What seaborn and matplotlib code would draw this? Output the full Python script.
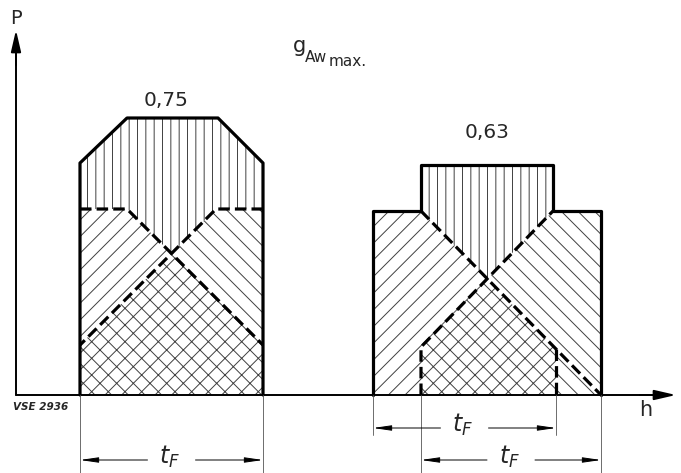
import matplotlib
matplotlib.use("Agg")
import matplotlib.pyplot as plt
import seaborn as sns

# --- values (h in drawing units, P above the h axis) ---
# left pair, g = 0,75
left_env_h = [80, 80, 127, 218, 263, 263]
left_env_p = [0, 232, 277, 277, 232, 0]
left_load1_h = [80, 127, 263]
left_load1_p = [186, 186, 50]
left_load2_h = [263, 216, 80]
left_load2_p = [186, 186, 50]
left_cross = (171.5, 141.5)

# right pair, g = 0,63
right_env_h = [373, 373, 421, 421, 553, 553, 601, 601]
right_env_p = [0, 184, 184, 230, 230, 184, 184, 0]
right_load1_h = [421, 556, 601]
right_load1_p = [184, 46, 0]
right_load2_h = [421, 421, 553]
right_load2_p = [0, 48, 184]
right_cross = (487, 116)

g_labels = ["0,75", "0,63"]
g_label_pos = [(166, 295), (487, 262)]

# dimension lines t_F: (start, end, level)
tf_dims = [(80, 263, -65), (373, 556, -33), (421, 601, -65)]
tf_ext = [(80, -78), (263, -78), (373, -40), (556, -40), (421, -78), (601, -78)]

sns.set_style("white")
plt.rcParams["hatch.linewidth"] = 0.7

fig = plt.figure(figsize=(6.81, 4.73), dpi=100)
ax = fig.add_axes([0, 0, 1, 1])
ax.set_xlim(0, 681)
ax.set_ylim(-78, 395)
ax.axis("off")

hc = "#404040"


def region(pts, hatch):
    xs = [p[0] for p in pts]
    ys = [p[1] for p in pts]
    ax.fill(xs, ys, facecolor="none", edgecolor=hc, lw=0, hatch=hatch)


# left shape regions
c = left_cross
region(list(zip(left_env_h[1:5], left_env_p[1:5]))
       + [(left_load2_h[0], left_load2_p[0]), (left_load2_h[1], left_load2_p[1]), c,
          (left_load1_h[1], left_load1_p[1]), (left_load1_h[0], left_load1_p[0])], "||")
region([(left_load1_h[0], left_load1_p[0]), (left_load1_h[1], left_load1_p[1]), c,
        (left_load2_h[2], left_load2_p[2])], "//")
region([(left_load2_h[0], left_load2_p[0]), (left_load2_h[1], left_load2_p[1]), c,
        (left_load1_h[2], left_load1_p[2])], "\\\\")
region([(left_env_h[0], 0), (left_load2_h[2], left_load2_p[2]), c,
        (left_load1_h[2], left_load1_p[2]), (left_env_h[-1], 0)], "xx")

# right shape regions
c = right_cross
region(list(zip(right_env_h[2:6], right_env_p[2:6])) + [c], "||")
region(list(zip(right_env_h[0:3], right_env_p[0:3])) + [c,
       (right_load2_h[1], right_load2_p[1]), (right_load2_h[0], 0)], "//")
region(list(zip(right_env_h[::-1][0:3], right_env_p[::-1][0:3])) + [c,
       (right_load1_h[1], right_load1_p[1]), (right_load1_h[1], 0)], "\\\\")
region([(right_load2_h[0], 0), (right_load2_h[1], right_load2_p[1]), c,
        (right_load1_h[1], right_load1_p[1]), (right_load1_h[1], 0)], "xx")

# outlines
solid = dict(color="k", lw=2.3, sort=False, estimator=None, ax=ax)
sns.lineplot(x=left_env_h, y=left_env_p, **solid)
sns.lineplot(x=right_env_h, y=right_env_p, **solid)

dash = dict(color="k", lw=2.3, sort=False, estimator=None, ax=ax,
            linestyle=(0, (3.6, 1.6)))
sns.lineplot(x=left_load1_h, y=left_load1_p, **dash)
sns.lineplot(x=left_load2_h, y=left_load2_p, **dash)
sns.lineplot(x=right_load1_h, y=right_load1_p, **dash)
sns.lineplot(x=right_load2_h, y=right_load2_p, **dash)
sns.lineplot(x=[right_load1_h[1], right_load1_h[1]], y=[right_load1_p[1], 0], **dash)

# axes with arrows
ax.plot([16, 660], [0, 0], color="k", lw=1.4)
ax.annotate("", xy=(676, 0), xytext=(640, 0),
            arrowprops=dict(arrowstyle="-|>,head_length=1.3,head_width=0.3",
                            color="k", lw=1.4, shrinkA=0, shrinkB=0))
ax.plot([16, 16], [0, 340], color="k", lw=1.4)
ax.annotate("", xy=(16, 365), xytext=(16, 330),
            arrowprops=dict(arrowstyle="-|>,head_length=1.3,head_width=0.3",
                            color="k", lw=1.4, shrinkA=0, shrinkB=0))
ax.text(16, 376, "P", fontsize=14, ha="center", va="center")
ax.text(646, -15, "h", fontsize=15, ha="center", va="center")
ax.text(13, -12, "VSE 2936", fontsize=7.5, style="italic", fontweight="bold",
        ha="left", va="center", family="Liberation Sans Narrow")

# labels
for lab, (x, y) in zip(g_labels, g_label_pos):
    ax.text(x, y, lab, fontsize=14.5, ha="center", va="center")
ax.text(293, 343, "g", fontsize=15, ha="left", va="baseline")
ax.text(305, 333, "Aw", fontsize=11, ha="left", va="baseline")
ax.text(329, 329, "max.", fontsize=11, ha="left", va="baseline")

# dimension lines
for x, y in tf_ext:
    ax.plot([x, x], [0, y], color="#555555", lw=0.6)
for x0, x1, y in tf_dims:
    mid = (x0 + x1) / 2
    ap = dict(arrowstyle="-|>,head_length=1.1,head_width=0.16", color="k",
              lw=0.7, shrinkA=0, shrinkB=0)
    ax.annotate("", xy=(x0, y), xytext=(mid - 24, y), arrowprops=ap)
    ax.annotate("", xy=(x1, y), xytext=(mid + 24, y), arrowprops=ap)
    ax.text(mid - 2, y + 3, r"$t_F$", fontsize=17, ha="center", va="center")

fig.savefig("out.png", dpi=100)
